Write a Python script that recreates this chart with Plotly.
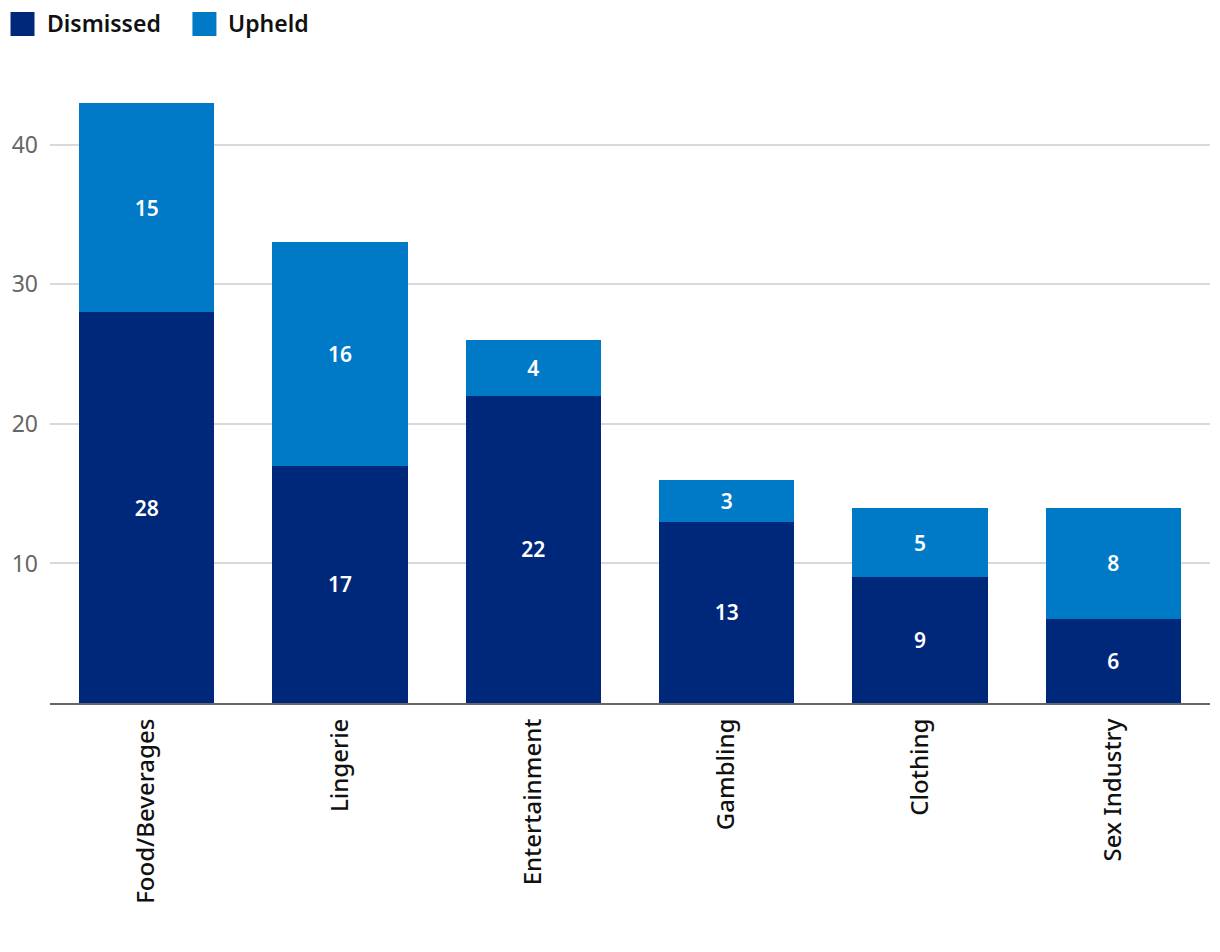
import plotly.graph_objects as go

categories = ["Food/Beverages", "Lingerie", "Entertainment", "Gambling", "Clothing", "Sex Industry"]
dismissed = [28, 17, 22, 13, 9, 6]
upheld = [15, 16, 4, 3, 5, 8]
series_names = ["Dismissed", "Upheld"]
colors = ["#00287a", "#007ac7"]
y_ticks = [10, 20, 30, 40]

# page has 8px body margin
W, H = 1204, 936
L, R, T, B = 41.5, 2, 67, 241
pw, ph = W - L - R, H - T - B

def px(x):
    return (x - L) / pw

def py(y):
    return (H - B - y) / ph

FONT = "Noto Sans"

fig = go.Figure()
for name, vals, col in zip(series_names, [dismissed, upheld], colors):
    fig.add_trace(go.Bar(
        x=categories, y=vals, name=name, marker=dict(color=col, line=dict(width=0)),
        text=vals, textposition="inside", insidetextanchor="middle",
        textfont=dict(color="white", size=21, family=FONT, weight=600),
        textangle=0, showlegend=False,
    ))

shapes = []
annotations = []
leg_x = [2, 184]
for i, (name, col) in enumerate(zip(series_names, colors)):
    x0 = leg_x[i]
    shapes.append(dict(type="rect", xref="paper", yref="paper",
                       x0=px(x0), x1=px(x0 + 24), y0=py(28), y1=py(4),
                       fillcolor=col, line=dict(width=0)))
    annotations.append(dict(xref="paper", yref="paper", x=px(x0 + 34), y=py(15),
                            text=name, showarrow=False, xanchor="left", yanchor="middle",
                            font=dict(size=23, color="#111111", family=FONT, weight=600)))

fig.update_layout(
    width=W, height=H,
    margin=dict(l=L, r=R, t=T, b=B, pad=0),
    barmode="stack", bargap=0.3,
    plot_bgcolor="white", paper_bgcolor="white",
    shapes=shapes, annotations=annotations,
    uniformtext=dict(minsize=10, mode="show"),
    xaxis=dict(tickangle=-90, tickfont=dict(size=24, color="#111111", family=FONT, weight=500),
               showline=True, linecolor="#666666", linewidth=2, ticks="", showgrid=False,
               automargin=False, ticklabelstandoff=4),
    yaxis=dict(range=[0, 45], tickvals=y_ticks, ticktext=[str(v) for v in y_ticks],
               tickfont=dict(size=23, color="#666666", family=FONT),
               showgrid=True, gridcolor="#d9d9d9", gridwidth=1.5, zeroline=False,
               ticks="", ticklabelstandoff=11, automargin=False),
)

fig.write_html("out.html")
